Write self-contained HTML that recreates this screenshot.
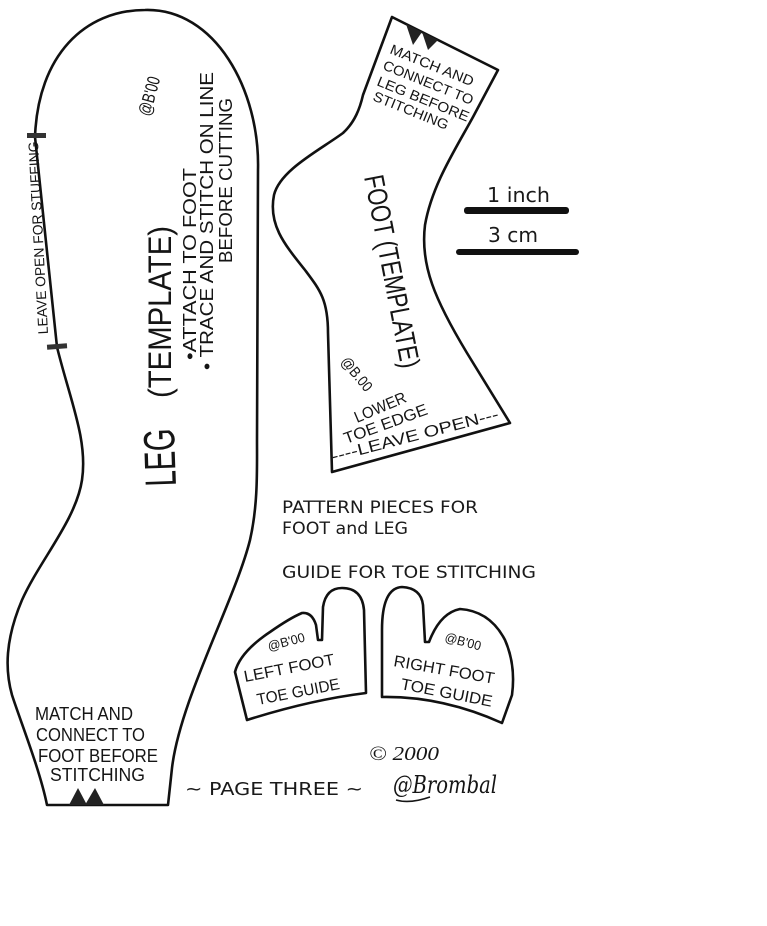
<!DOCTYPE html>
<html>
<head>
<meta charset="utf-8">
<style>
html,body{margin:0;padding:0;background:#fff;}
svg{display:block;}
.hw{font-family:"Liberation Sans Narrow","Liberation Sans",sans-serif;fill:#151515;}
.pr{font-family:"DejaVu Sans","Liberation Sans",sans-serif;fill:#1a1a1a;}
.ol{fill:none;stroke:#111;stroke-width:2.6;stroke-linejoin:round;stroke-linecap:round;}
</style>
</head>
<body>
<svg width="767" height="926" viewBox="0 0 767 926" xmlns="http://www.w3.org/2000/svg">
<rect width="767" height="926" fill="#fff"/>

<!-- LEG outline -->
<path class="ol" d="M47 805 L168 805 L172 768 C180 700 235 600 250 540 C258 505 257 470 257 440 L258 170 C260 90 215 8 145 10 C85 10 38 55 35 137 L57 347 C70 400 88 440 82 480 C76 520 40 560 22 600 C5 640 5 670 12 695 C20 720 40 770 47 805 Z"/>
<!-- leg notches -->
<polygon points="69,805 87,805 78,788" fill="#222"/>
<polygon points="85,805 104,805 95,788" fill="#222"/>
<!-- leave-open marks -->
<rect x="27" y="133" width="19" height="5" fill="#333"/>
<rect x="47" y="344" width="20" height="5" fill="#333" transform="rotate(-4 57 346)"/>

<text class="hw" font-size="14" transform="translate(48,334) rotate(-93)" textLength="193" lengthAdjust="spacingAndGlyphs">LEAVE OPEN FOR STUFFING</text>

<text class="hw" font-size="44" transform="translate(176,486) rotate(-92)" textLength="58" lengthAdjust="spacingAndGlyphs">LEG</text>
<text class="hw" font-size="32" transform="translate(171,398) rotate(-90)" textLength="172" lengthAdjust="spacingAndGlyphs">(TEMPLATE)</text>
<text class="hw" font-size="18" transform="translate(196,360) rotate(-90)" textLength="192" lengthAdjust="spacingAndGlyphs">•ATTACH TO FOOT</text>
<text class="hw" font-size="18" transform="translate(213,370) rotate(-90)" textLength="298" lengthAdjust="spacingAndGlyphs">• TRACE AND STITCH ON LINE</text>
<text class="hw" font-size="18" transform="translate(232,263) rotate(-90)" textLength="165" lengthAdjust="spacingAndGlyphs">BEFORE CUTTING</text>
<text class="hw" font-size="18" transform="translate(150,117) rotate(-75)" textLength="40" lengthAdjust="spacingAndGlyphs">@B'00</text>

<text class="hw" font-size="18" x="35" y="720" textLength="98" lengthAdjust="spacingAndGlyphs">MATCH AND</text>
<text class="hw" font-size="18" x="36" y="741" textLength="109" lengthAdjust="spacingAndGlyphs">CONNECT TO</text>
<text class="hw" font-size="18" x="38" y="762" textLength="120" lengthAdjust="spacingAndGlyphs">FOOT BEFORE</text>
<text class="hw" font-size="18" x="50" y="781" textLength="95" lengthAdjust="spacingAndGlyphs">STITCHING</text>

<!-- FOOT outline -->
<path class="ol" d="M392 17 L498 70 L473 117 C455 150 432 185 425 225 C420 265 435 300 467 353 L510 423 L332 472 L328 333 C328 300 320 290 305 270 C285 245 268 225 274 195 C280 170 320 150 343 133 C355 122 360 108 363 95 L392 17 Z"/>
<polygon points="406,24 422,32 413,45" fill="#222"/>
<polygon points="422,32 438,40 428,50" fill="#222"/>

<g class="hw" font-size="14">
<text transform="translate(389,53) rotate(22)" textLength="89" lengthAdjust="spacingAndGlyphs">MATCH AND</text>
<text transform="translate(382,69) rotate(22)" textLength="96" lengthAdjust="spacingAndGlyphs">CONNECT TO</text>
<text transform="translate(376,85) rotate(22)" textLength="98" lengthAdjust="spacingAndGlyphs">LEG BEFORE</text>
<text transform="translate(372,100) rotate(22)" textLength="80" lengthAdjust="spacingAndGlyphs">STITCHING</text>
</g>

<text class="hw" font-size="28" transform="translate(364,177) rotate(79)" textLength="196" lengthAdjust="spacingAndGlyphs">FOOT (TEMPLATE)</text>
<text class="hw" font-size="15" transform="translate(340,362) rotate(50)" textLength="40" lengthAdjust="spacingAndGlyphs">@B.00</text>

<g class="hw" font-size="16">
<text transform="translate(357,423) rotate(-23)" textLength="55" lengthAdjust="spacingAndGlyphs">LOWER</text>
<text transform="translate(346,444) rotate(-20)" textLength="88" lengthAdjust="spacingAndGlyphs">TOE EDGE</text>
<text transform="translate(333,462) rotate(-14.5)" textLength="172" lengthAdjust="spacingAndGlyphs">----LEAVE  OPEN---</text>
</g>

<!-- scale bars -->
<text class="pr" font-size="20" x="487" y="202" textLength="63" lengthAdjust="spacingAndGlyphs">1 inch</text>
<rect x="464" y="207" width="105" height="7" rx="3" fill="#111"/>
<text class="pr" font-size="20" x="488" y="242" textLength="50" lengthAdjust="spacingAndGlyphs">3 cm</text>
<rect x="456" y="249" width="123" height="6" rx="3" fill="#111"/>

<!-- printed text -->
<text class="pr" font-size="17" x="282" y="513" textLength="196" lengthAdjust="spacingAndGlyphs">PATTERN PIECES FOR</text>
<text class="pr" font-size="17" x="282" y="534" textLength="126" lengthAdjust="spacingAndGlyphs">FOOT and LEG</text>
<text class="pr" font-size="17" x="282" y="578" textLength="254" lengthAdjust="spacingAndGlyphs">GUIDE FOR TOE STITCHING</text>
<text class="pr" font-size="18" x="185" y="795" textLength="178" lengthAdjust="spacingAndGlyphs">~ PAGE THREE ~</text>

<!-- toe guides -->
<path class="ol" d="M247 720 L235 672 Q240 652 270 632 Q290 618 302 613 Q312 612 316 625 L318 640 L322 640 L323 607 Q326 588 342 588 Q362 588 364 610 L366 693 Q310 700 247 720 Z"/>
<path class="ol" d="M382 697 L382 630 Q382 588 402 587 Q421 588 423 605 L425 642 L429 642 Q440 613 460 609 Q490 611 505 640 Q516 665 512 695 L502 723 Q442 696 382 697 Z"/>

<g class="hw">
<text font-size="13" transform="translate(269,651) rotate(-15)" textLength="38" lengthAdjust="spacingAndGlyphs">@B'00</text>
<text font-size="16" transform="translate(245,682) rotate(-11)" textLength="92" lengthAdjust="spacingAndGlyphs">LEFT FOOT</text>
<text font-size="16" transform="translate(258,705) rotate(-11)" textLength="84" lengthAdjust="spacingAndGlyphs">TOE GUIDE</text>
<text font-size="13" transform="translate(444,641) rotate(15)" textLength="37" lengthAdjust="spacingAndGlyphs">@B'00</text>
<text font-size="16" transform="translate(393,666) rotate(10)" textLength="102" lengthAdjust="spacingAndGlyphs">RIGHT FOOT</text>
<text font-size="16" transform="translate(400,689) rotate(11)" textLength="93" lengthAdjust="spacingAndGlyphs">TOE GUIDE</text>
</g>

<!-- copyright and signature -->
<text x="369" y="760" font-family="'Liberation Serif',serif" font-style="italic" font-size="20" fill="#151515" textLength="70" lengthAdjust="spacingAndGlyphs">© 2000</text>
<text x="393" y="793" font-family="'DejaVu Serif','Liberation Serif',serif" font-style="italic" font-size="24" fill="#151515" textLength="104" lengthAdjust="spacingAndGlyphs">@Brombal</text>
<path d="M396 800 Q410 804 430 797" fill="none" stroke="#151515" stroke-width="1.6"/>
</svg>
</body>
</html>
